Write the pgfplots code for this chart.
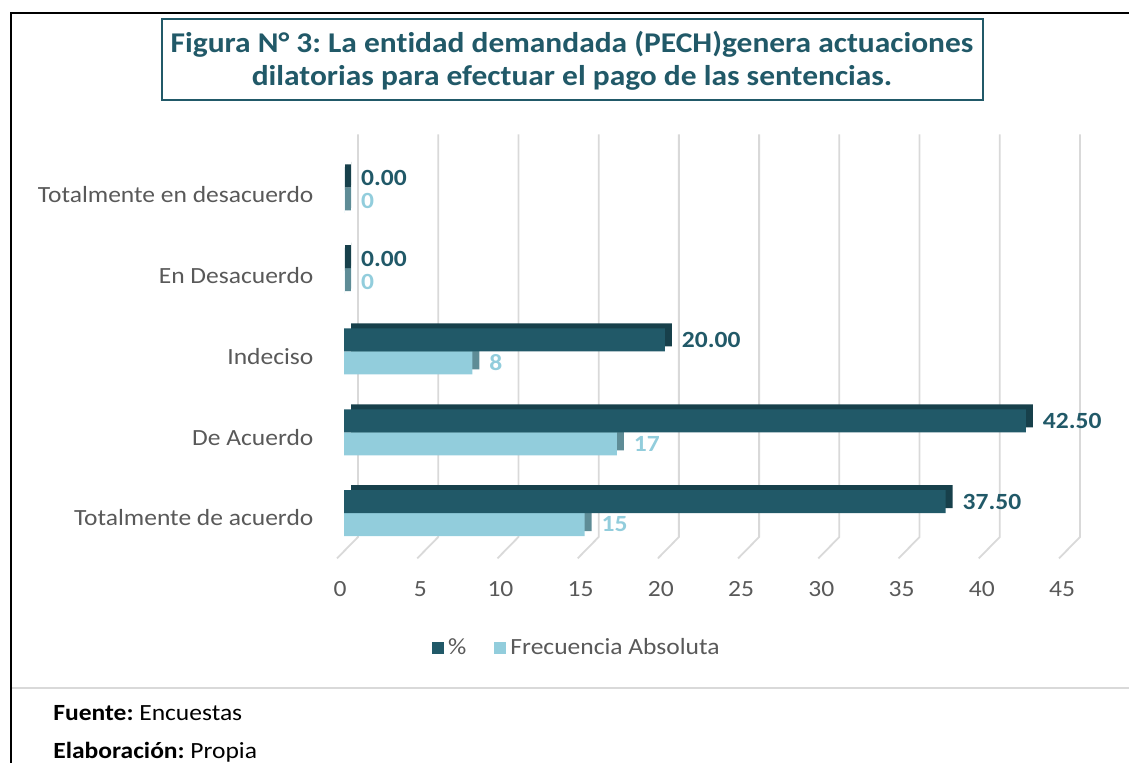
\documentclass[border=0pt]{standalone}
\usepackage{pgfplots}
\pgfplotsset{compat=1.18}
\usepackage{fontspec}
\setmainfont[FakeStretch=1.1, Ligatures={NoCommon}]{Carlito}
\frenchspacing
\definecolor{darkteal}{HTML}{215968}
\definecolor{darktop}{HTML}{17404B}
\definecolor{lightblue}{HTML}{92CDDC}
\definecolor{lightside}{HTML}{5E8C96}
\definecolor{gridgray}{HTML}{D9D9D9}
\definecolor{ticktext}{HTML}{595959}
\begin{document}
\begin{tikzpicture}
\useasboundingbox (0,0) rectangle (564.5pt,-381.5pt);
% frame
\draw[black, line width=1.2pt] (5.5pt,-381.5pt) -- (5.5pt,-6.5pt) -- (564.5pt,-6.5pt);
\draw[gridgray, line width=0.6pt] (6pt,-344pt) -- (564.5pt,-344pt);
% title box
\draw[darkteal, line width=1pt, fill=white] (81pt,-9.75pt) rectangle (491.5pt,-50pt);
\node[darkteal, font=\bfseries\fontsize{14.3}{16.5}\selectfont, align=center] at (286pt,-30.5pt)
  {Figura N° 3: La entidad demandada (PECH)genera actuaciones\\dilatorias para efectuar el pago de las sentencias.};
% footer
\node[anchor=west, inner sep=0pt, font=\fontsize{11.6}{13}\selectfont] at (26.5pt,-356.5pt) {\textbf{Fuente:} Encuestas};
\node[anchor=west, inner sep=0pt, font=\fontsize{11.6}{13}\selectfont] at (26.5pt,-376pt) {\textbf{Elaboración:} Propia};
\begin{axis}[
  at={(172pt,-279.2pt)}, anchor=south west,
  scale only axis, width=361pt, height=212pt,
  xmin=0, xmax=45, ymin=-0.5, ymax=4.75,
  xbar, bar width=11.5pt,
  axis line style={draw=none}, tick style={draw=none},
  xtick={0,5,...,45},
  ytick={0,1,2,3,4},
  yticklabels={Totalmente de acuerdo, De Acuerdo, Indeciso, En Desacuerdo, Totalmente en desacuerdo},
  ticklabel style={font=\fontsize{11.6}{13}\selectfont, text=ticktext},
  xticklabel style={yshift=-8pt, xshift=-2pt},
  yticklabel style={xshift=-7.5pt},
  /pgf/number format/assume math mode=true,
  legend style={at={(0.324,-0.211)}, anchor=center, draw=none, legend columns=2,
     font=\fontsize{11.6}{13}\selectfont, text=ticktext,
     /tikz/every even column/.append style={column sep=12pt}},
  legend image code/.code={\fill[#1] (0pt,-3pt) rectangle (6pt,3pt);},
  clip=false,
]
% gridlines (back wall, 3D slant)
\pgfplotsinvokeforeach{0,5,...,45}{
  \draw[gridgray, line width=0.9pt] ([xshift=7pt]axis cs:#1,4.75) -- ([xshift=7pt]axis cs:#1,-0.235) -- ([xshift=-3.5pt]axis cs:#1,-0.5);
}
% Frecuencia Absoluta: side/top shadow then front
\addplot[forget plot, fill=lightside, draw=none, bar shift=-3.25pt, xshift=3.5pt, yshift=2.5pt]
  coordinates {(15,0) (17,1) (8,2) (0,3) (0,4)};
\addplot[forget plot, fill=lightside, draw=lightside, line width=3pt, bar shift=-3.25pt, xshift=1.9pt, yshift=1.25pt]
  coordinates {(0,3) (0,4)};
\addplot[forget plot, fill=lightblue, draw=none, bar shift=-3.25pt,
  nodes near coords={\pgfmathprintnumber{\pgfplotspointmeta}},
  nodes near coords style={font=\bfseries\fontsize{11.6}{13}\selectfont, text=lightblue, anchor=west, xshift=5pt}]
  coordinates {(15,0) (17,1) (8,2) (0,3) (0,4)};
% %: shadow then front
\addplot[forget plot, fill=darktop, draw=none, bar shift=8.25pt, xshift=3.5pt, yshift=2.5pt]
  coordinates {(37.5,0) (42.5,1) (20,2) (0,3) (0,4)};
\addplot[forget plot, fill=darktop, draw=darktop, line width=3pt, bar shift=8.25pt, xshift=1.9pt, yshift=1.25pt]
  coordinates {(0,3) (0,4)};
\addplot[forget plot, fill=darkteal, draw=none, bar shift=8.25pt,
  nodes near coords={\pgfmathprintnumber[fixed,fixed zerofill,precision=2]{\pgfplotspointmeta}},
  nodes near coords style={font=\bfseries\fontsize{11.6}{13}\selectfont, text=darkteal, anchor=west, xshift=5pt}]
  coordinates {(37.5,0) (42.5,1) (20,2) (0,3) (0,4)};
\addlegendimage{fill=darkteal, draw=none}
\addlegendentry{\%}
\addlegendimage{fill=lightblue, draw=none}
\addlegendentry{Frecuencia Absoluta}
\end{axis}
\end{tikzpicture}
\end{document}
